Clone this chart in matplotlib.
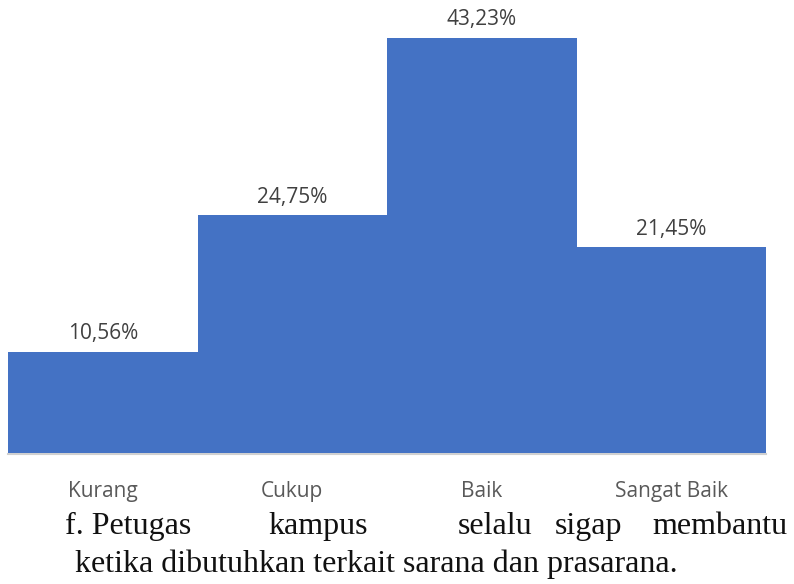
import matplotlib
matplotlib.use('Agg')
import matplotlib.pyplot as plt

categories = ['Kurang', 'Cukup', 'Baik', 'Sangat Baik']
values = [10.56, 24.75, 43.23, 21.45]
value_labels = ['10,56%', '24,75%', '43,23%', '21,45%']

caption_line1 = ['f. Petugas', 'kampus', 'selalu', 'sigap', 'membantu']
caption_line2 = 'ketika dibutuhkan terkait sarana dan prasarana.'

W, H = 794, 584
fig = plt.figure(figsize=(W / 100, H / 100), dpi=100)
fig.patch.set_facecolor('white')

# axes placed in pixel terms: bars span x 8..766, baseline at y 453
ax = fig.add_axes([8 / W, (H - 453) / H, (766 - 8) / W, 453 / H])
x = range(len(categories))
ax.bar(x, values, width=1.0, color='#4472C4', edgecolor='none', zorder=2)
ax.set_xlim(-0.5, len(categories) - 0.5)
ax.set_ylim(0, 47.19)
for s in ax.spines.values():
    s.set_visible(False)
ax.set_yticks([])
ax.set_xticks([])
ax.axhline(-0.15, color='#d0d0d0', lw=1.5, zorder=1, clip_on=False)

sans = ['Open Sans', 'DejaVu Sans']
for i, (v, lab) in enumerate(zip(values, value_labels)):
    ax.annotate(lab, (i, v), xytext=(0, 13), textcoords='offset points',
                ha='center', va='center', fontsize=15, color='#404040',
                family=sans)

for i, c in enumerate(categories):
    ax.annotate(c, (i, 0), xytext=(0, -27.5), textcoords='offset points',
                ha='center', va='center', fontsize=15, color='#595959',
                family=sans)

serif = ['Liberation Serif', 'DejaVu Serif']
line1_x = [65, 268, 458, 555, 787]
for word, px in zip(caption_line1, line1_x):
    ha = 'right' if word == caption_line1[-1] else 'left'
    fig.text(px / W, 1 - 534 / H, word, ha=ha, va='baseline', fontsize=23,
             color='#111111', family=serif)
fig.text(75 / W, 1 - 572 / H, caption_line2, ha='left', va='baseline',
         fontsize=23, color='#111111', family=serif)

fig.savefig('out.png', dpi=100, facecolor='white')
